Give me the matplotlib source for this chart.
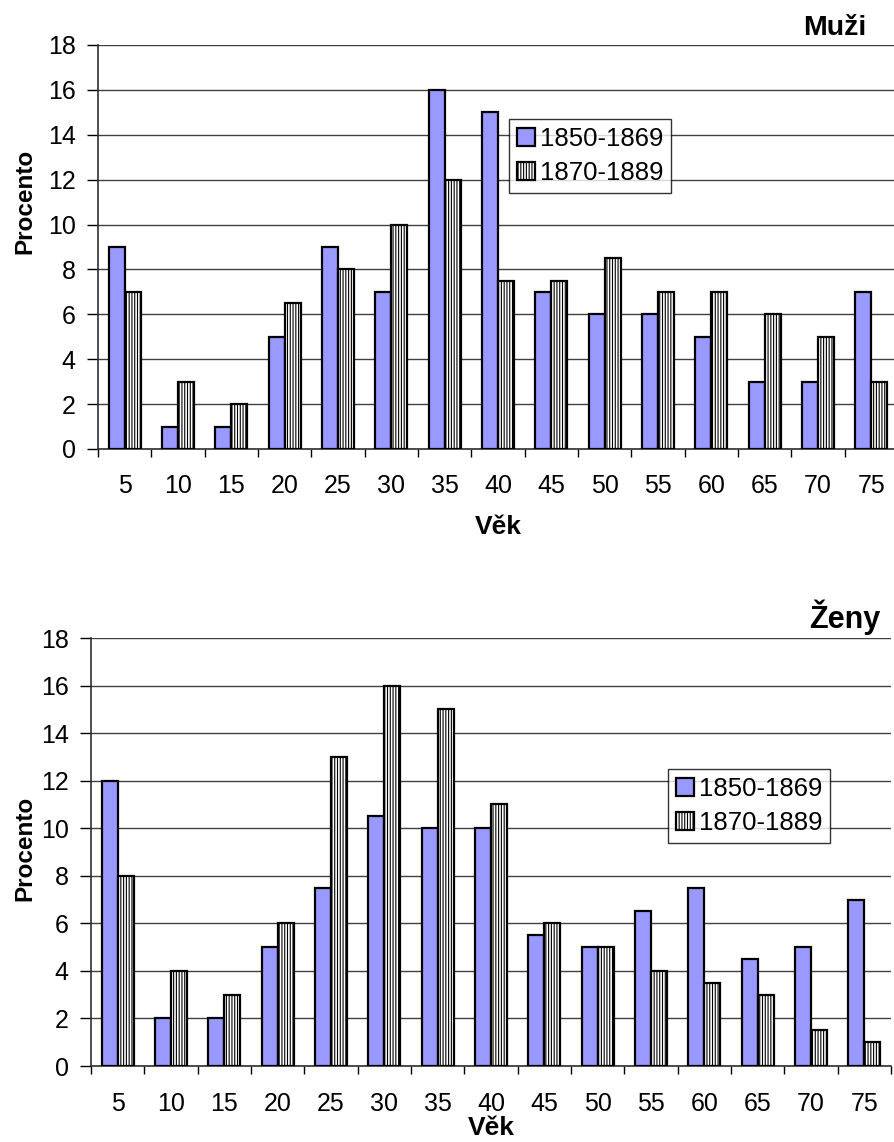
import matplotlib
matplotlib.use("Agg")
import numpy as np
from matplotlib import pyplot as plt

plt.rcParams['font.family'] = ['Liberation Sans', 'DejaVu Sans']
plt.rcParams['hatch.linewidth'] = 0.8

# vekove kategorie
vek = ['5', '10', '15', '20', '25', '30', '35', '40', '45', '50', '55', '60', '65', '70', '75']
obdobi = ['1850-1869', '1870-1889']

# muzi
muzi_1850 = [9, 1, 1, 5, 9, 7, 16, 15, 7, 6, 6, 5, 3, 3, 7]
muzi_1870 = [7, 3, 2, 6.5, 8, 10, 12, 7.5, 7.5, 8.5, 7, 7, 6, 5, 3]

# zeny
zeny_1850 = [12, 2, 2, 5, 7.5, 10.5, 10, 10, 5.5, 5, 6.5, 7.5, 4.5, 5, 7]
zeny_1870 = [8, 4, 3, 6, 13, 16, 15, 11, 6, 5, 4, 3.5, 3, 1.5, 1]

W, H = 895, 1142
fig = plt.figure(figsize=(W / 100, H / 100), dpi=100)


def graf(rect, a, b, pad):
    ax = fig.add_axes(rect)
    x = np.arange(len(vek))
    w = 0.3
    ax.bar(x - w / 2, a, w, color='#9999FF', edgecolor='black', linewidth=1.6, label=obdobi[0], zorder=3)
    ax.bar(x + w / 2, b, w, color='white', edgecolor='black', linewidth=1.6, hatch='||||||', label=obdobi[1], zorder=3)
    ax.set_xlim(-0.5, len(vek) - 0.5)
    ax.set_ylim(0, 18)
    ax.set_yticks(range(0, 19, 2))
    ax.yaxis.grid(True, color='#404040', linewidth=1.0, zorder=0)
    # carky na hranicich kategorii, popisky uprostred
    ax.set_xticks(np.arange(-0.5, len(vek), 1.0))
    ax.set_xticklabels([])
    ax.set_xticks(x, minor=True)
    ax.set_xticklabels(vek, minor=True)
    ax.tick_params(axis='x', which='major', direction='out', length=6, width=1)
    ax.tick_params(axis='x', which='minor', length=0, pad=pad, labelsize=18)
    ax.tick_params(axis='y', direction='out', length=8, width=1, pad=8, labelsize=18)
    for s in ['top', 'right']:
        ax.spines[s].set_visible(False)
    for s in ['left', 'bottom']:
        ax.spines[s].set_color('#303030')
        ax.spines[s].set_linewidth(1.2)
    return ax


ax1 = graf([98 / W, 1 - 449 / H, 800 / W, 404 / H], muzi_1850, muzi_1870, 18)
ax2 = graf([91 / W, 1 - 1066 / H, 800 / W, 428 / H], zeny_1850, zeny_1870, 19)

for ax, (lx, ly) in [(ax1, (509, 119)), (ax2, (668, 769))]:
    leg = ax.legend(loc='upper left', bbox_to_anchor=(lx / W, 1 - ly / H), bbox_transform=fig.transFigure,
                    fontsize=18.5, frameon=True, fancybox=False, borderaxespad=0, handlelength=0.7,
                    handleheight=0.7, handletextpad=0.2, borderpad=0.3, labelspacing=0.4)
    leg.get_frame().set_edgecolor('black')
    leg.get_frame().set_linewidth(1.0)

# nadpisy a osy
fig.text(866 / W, 1 - 28 / H, 'Muži', ha='right', va='center', fontsize=20.5, fontweight='bold')
fig.text(880 / W, 1 - 617 / H, 'Ženy', ha='right', va='center', fontsize=22, fontweight='bold')
fig.text(25 / W, 1 - 201 / H, 'Procento', rotation=90, ha='center', va='center', fontsize=17.5, fontweight='bold')
fig.text(25 / W, 1 - 848 / H, 'Procento', rotation=90, ha='center', va='center', fontsize=17.5, fontweight='bold')
fig.text(498 / W, 1 - 527 / H, 'Věk', ha='center', va='center', fontsize=19, fontweight='bold')
fig.text(491 / W, 1 - 1128 / H, 'Věk', ha='center', va='center', fontsize=19, fontweight='bold')

fig.savefig('out.png', dpi=100)
